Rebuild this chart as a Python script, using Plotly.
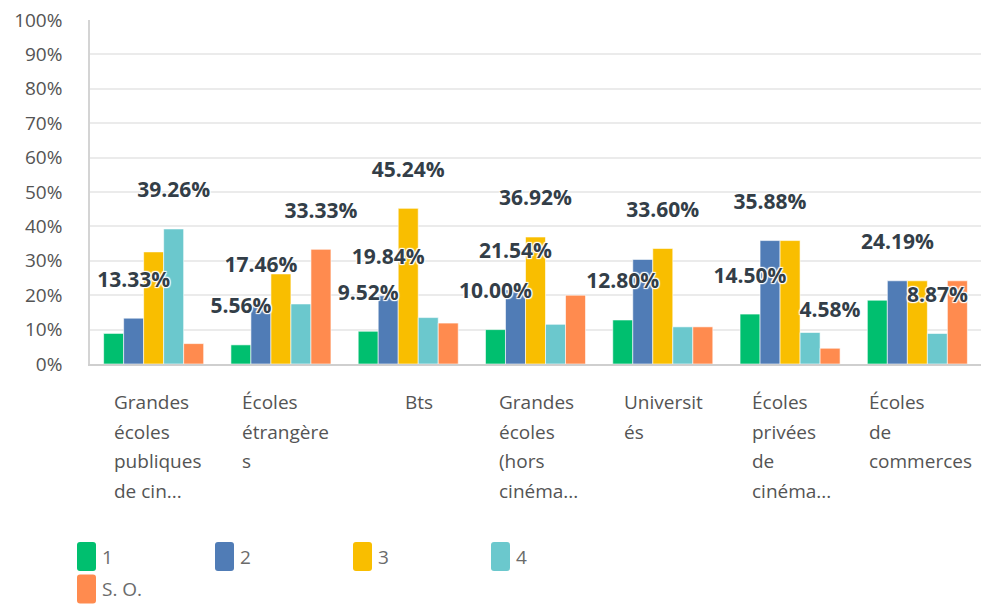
import plotly.graph_objects as go

# ---------------- data ----------------
categories = [
    "Grandes<br>écoles<br>publiques<br>de cin...",
    "Écoles<br>étrangère<br>s",
    "Bts",
    "Grandes<br>écoles<br>(hors<br>cinéma...",
    "Universit<br>és",
    "Écoles<br>privées<br>de<br>cinéma...",
    "Écoles<br>de<br>commerces",
]
series_names = ["1", "2", "3", "4", "S. O."]
s1 = [8.89, 5.56, 9.52, 10.00, 12.80, 14.50, 18.55]
s2 = [13.33, 17.46, 19.84, 21.54, 30.40, 35.88, 24.19]
s3 = [32.59, 26.19, 45.24, 36.92, 33.60, 35.88, 24.19]
s4 = [39.26, 17.46, 13.49, 11.54, 10.80, 9.16, 8.87]
s5 = [5.93, 33.33, 11.90, 20.00, 10.80, 4.58, 24.19]
# which value labels are visible in the picture
show1 = [0, 1, 1, 1, 1, 1, 0]
show2 = [1, 1, 1, 1, 0, 1, 1]
show3 = [0, 0, 1, 1, 1, 0, 0]
show4 = [1, 0, 0, 0, 0, 0, 1]
show5 = [0, 1, 0, 0, 0, 1, 0]
y_ticks = [0, 10, 20, 30, 40, 50, 60, 70, 80, 90, 100]

series = [s1, s2, s3, s4, s5]
shows = [show1, show2, show3, show4, show5]

# ---------------- style ----------------
colors = ["#00BF6F", "#507CB6", "#F9BE00", "#6BC8CD", "#FF8B4F"]
W, H = 982, 604
ML, MR, MT, MB = 90, 1, 20, 240
PW, PH = W - ML - MR, H - MT - MB
BARGAP = 0.214
LABEL_LIFT = 10.7
TXT = "#545454"
LBL = "#333E48"
FONT = "Open Sans"

fig = go.Figure()
for name, vals, col in zip(series_names, series, colors):
    fig.add_trace(go.Bar(
        x=categories, y=vals, name=name, marker_color=col,
        marker_line_color="#ffffff", marker_line_width=0.6,
        showlegend=False, hoverinfo="skip",
    ))

for name, vals, show in zip(series_names, series, shows):
    fig.add_trace(go.Scatter(
        x=categories,
        y=[v + LABEL_LIFT if s else None for v, s in zip(vals, show)],
        text=[f"{v:.2f}%" if s else "" for v, s in zip(vals, show)],
        mode="text", textposition="middle center",
        textfont=dict(family=FONT, size=21, color=LBL, weight=700,
                      shadow="1px 1px 1px #fff, -1px -1px 1px #fff, 1px -1px 1px #fff, -1px 1px 1px #fff, 0 0 2px #fff"),
        showlegend=False, hoverinfo="skip", cliponaxis=False,
    ))

annotations = []
# x category labels, left aligned, multi-line
xshifts = [-42, -41, -5, -39, -41, -40, -50]
LINE_H = 29.5
for cat, xs in zip(categories, xshifts):
    for k, line in enumerate(cat.split("<br>")):
        annotations.append(dict(
            x=cat, xref="x", y=0, yref="paper", xanchor="left", yanchor="middle",
            xshift=xs, yshift=-(38 + k * LINE_H), text=line, showarrow=False,
            font=dict(family=FONT, size=19, color=TXT), align="left",
        ))

# custom legend
shapes = []
def px2paper_x(px):
    return (px - ML) / PW
def px2paper_y(py):
    return (H - MB - py) / PH

def rounded(x0, y0, x1, y1, r):
    X = px2paper_x
    Y = px2paper_y
    return (f"M {X(x0 + r)},{Y(y0)} L {X(x1 - r)},{Y(y0)} Q {X(x1)},{Y(y0)} {X(x1)},{Y(y0 + r)} "
            f"L {X(x1)},{Y(y1 - r)} Q {X(x1)},{Y(y1)} {X(x1 - r)},{Y(y1)} "
            f"L {X(x0 + r)},{Y(y1)} Q {X(x0)},{Y(y1)} {X(x0)},{Y(y1 - r)} "
            f"L {X(x0)},{Y(y0 + r)} Q {X(x0)},{Y(y0)} {X(x0 + r)},{Y(y0)} Z")

LEG_X0, LEG_DX = 77, 138
LEG_Y0, LEG_DY = 542, 32.5
SW_W, SW_H = 19, 29
for i, (name, col) in enumerate(zip(series_names, colors)):
    r, c = divmod(i, 4)
    x0 = LEG_X0 + c * LEG_DX
    y0 = LEG_Y0 + r * LEG_DY
    shapes.append(dict(type="path", xref="paper", yref="paper",
                       path=rounded(x0, y0, x0 + SW_W, y0 + SW_H, 3),
                       fillcolor=col, line=dict(width=0)))
    annotations.append(dict(
        x=px2paper_x(x0 + SW_W + 4), y=px2paper_y(y0 + SW_H / 2),
        xref="paper", yref="paper", xanchor="left", yanchor="middle",
        text=name, showarrow=False, font=dict(family=FONT, size=19, color="#6b6b6b"),
    ))

fig.update_layout(
    width=W, height=H,
    margin=dict(l=ML, r=MR, t=MT, b=MB),
    paper_bgcolor="white", plot_bgcolor="white",
    barmode="group", bargap=BARGAP, bargroupgap=0,
    scattermode="group", scattergap=BARGAP,
    showlegend=False,
    annotations=annotations, shapes=shapes,
    font=dict(family=FONT, color=TXT),
)
fig.update_xaxes(showticklabels=False, showgrid=False, showline=True,
                 linecolor="#cfcfcf", linewidth=2, ticks="", zeroline=False)
fig.update_yaxes(range=[0, 100], tickvals=y_ticks,
                 ticktext=[f"{t}%" for t in y_ticks],
                 showgrid=True, gridcolor="#ebebeb", gridwidth=2,
                 showline=True, linecolor="#d4d4d4", linewidth=1.5,
                 zeroline=False, ticks="", ticklabelstandoff=22,
                 tickfont=dict(family=FONT, size=19, color=TXT))

fig.write_html("out.html", config={"displayModeBar": False},
               post_script="document.body.style.margin='0';document.body.style.overflow='hidden';")
